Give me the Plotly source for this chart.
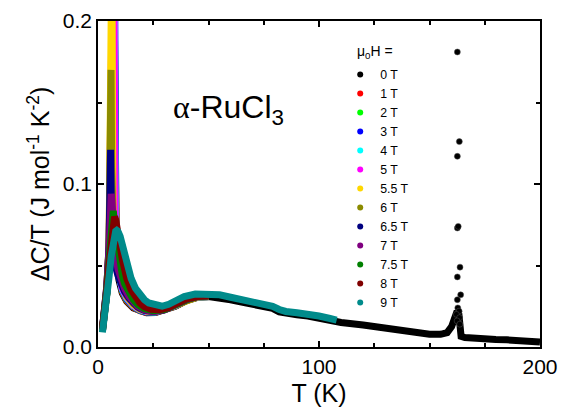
import plotly.graph_objects as go

# ---------------- data ----------------
fields = ["0 T", "1 T", "2 T", "3 T", "4 T", "5 T", "5.5 T", "6 T", "6.5 T", "7 T", "7.5 T", "8 T", "9 T"]
colors = ["#000000", "#ff0000", "#00ff00", "#0000ff", "#00ffff", "#ff00ff", "#ffd700",
          "#8b8b00", "#000080", "#800080", "#008000", "#800000", "#008b8b"]

T_0T = [2, 3, 4, 5, 6, 6.8, 7.1, 7.4, 8.3, 9.5, 11, 13, 16, 19, 22, 26, 30, 35, 40, 45, 50, 55, 60, 65, 70,
        75, 79, 82, 85, 90, 95, 100, 105, 110, 120, 130, 140, 150, 155, 158, 160, 161.5, 162.5, 163.3, 163.8,
        164.3, 166, 170, 175, 180, 185, 190, 195, 200]
C_0T = [0.010, 0.019, 0.033, 0.055, 0.10, 0.20, 0.60, 0.20, 0.055, 0.041, 0.033, 0.028, 0.024, 0.022, 0.021,
        0.0212, 0.0225, 0.025, 0.0285, 0.0305, 0.031, 0.0305, 0.029, 0.0275, 0.0263, 0.025, 0.0237, 0.0215,
        0.0205, 0.0197, 0.019, 0.0175, 0.016, 0.015, 0.0135, 0.0113, 0.0094, 0.0078, 0.0078, 0.0088, 0.0125,
        0.017, 0.022, 0.020, 0.012, 0.0065, 0.0058, 0.0052, 0.0048, 0.0046, 0.0044, 0.004, 0.0035, 0.003]
# isolated 0 T points at the 163 K anomaly
T_0T_peak = [162.6, 163.5, 162.6, 162.6, 163.0, 163.8, 162.6, 164.1, 162.6, 162.8, 163.4, 162.2, 163.6, 162.5, 163.7]
C_0T_peak = [0.181, 0.126, 0.117, 0.073, 0.074, 0.049, 0.043, 0.032, 0.029, 0.024, 0.022, 0.020, 0.018, 0.016, 0.014]

T_1T = [2, 3, 4, 5, 6, 6.7, 7.0, 7.3, 8.2, 9.5, 11, 13, 16, 19, 22, 26, 30, 35, 40, 45, 50]
C_1T = [0.010, 0.019, 0.033, 0.055, 0.10, 0.20, 0.55, 0.20, 0.056, 0.042, 0.034, 0.0285, 0.0245, 0.0222,
        0.0212, 0.0213, 0.0226, 0.0252, 0.0286, 0.0306, 0.031]
T_2T = [2, 3, 4, 5, 6, 6.6, 6.9, 7.2, 8.1, 9.5, 11, 13, 16, 19, 22, 26, 30, 35, 40, 45, 50]
C_2T = [0.010, 0.019, 0.033, 0.056, 0.11, 0.20, 0.50, 0.20, 0.057, 0.043, 0.0345, 0.029, 0.0248, 0.0224,
        0.0214, 0.0214, 0.0227, 0.0253, 0.0287, 0.0306, 0.031]
T_3T = [2, 3, 4, 5, 6, 6.5, 6.8, 7.1, 8.0, 9.5, 11, 13, 16, 19, 22, 26, 30, 35, 40, 45, 50]
C_3T = [0.010, 0.019, 0.034, 0.057, 0.12, 0.20, 0.48, 0.20, 0.058, 0.044, 0.035, 0.0295, 0.025, 0.0226,
        0.0215, 0.0215, 0.0228, 0.0254, 0.0288, 0.0307, 0.031]
T_4T = [2, 3, 4, 5, 6, 6.4, 6.7, 7.0, 7.9, 9.5, 11, 13, 16, 19, 22, 26, 30, 35, 40, 45, 50]
C_4T = [0.010, 0.019, 0.034, 0.058, 0.13, 0.20, 0.45, 0.20, 0.058, 0.044, 0.0355, 0.03, 0.0253, 0.0228,
        0.0217, 0.0216, 0.0229, 0.0255, 0.0289, 0.0307, 0.031]
T_5T = [2, 3, 4, 5, 5.8, 6.3, 6.6, 6.9, 7.8, 9.5, 11, 13, 16, 19, 22, 26, 30, 35, 40, 45, 50]
C_5T = [0.010, 0.020, 0.035, 0.06, 0.12, 0.20, 0.40, 0.20, 0.06, 0.045, 0.036, 0.0305, 0.0256, 0.023,
        0.0219, 0.0218, 0.023, 0.0256, 0.029, 0.0308, 0.031]
T_55T = [2, 3, 4, 5, 5.6, 5.95, 6.1, 6.3, 6.8, 8.0, 9.5, 11, 13, 16, 19, 22, 26, 30, 35, 40, 45, 50]
C_55T = [0.010, 0.020, 0.036, 0.062, 0.11, 0.20, 0.30, 0.20, 0.075, 0.052, 0.046, 0.037, 0.031, 0.026,
         0.0232, 0.0221, 0.022, 0.0231, 0.0257, 0.029, 0.0308, 0.031]
T_6T = [2, 3, 4, 5, 5.5, 5.9, 6.2, 6.6, 7.3, 8.5, 9.5, 11, 13, 16, 19, 22, 26, 30, 35, 40, 45, 50]
C_6T = [0.010, 0.020, 0.036, 0.062, 0.10, 0.170, 0.11, 0.068, 0.056, 0.049, 0.045, 0.038, 0.0315, 0.0265,
        0.0235, 0.0223, 0.0221, 0.0232, 0.0258, 0.029, 0.0309, 0.031]
T_65T = [2, 3, 4, 5, 5.4, 5.7, 6.0, 6.4, 7, 8, 9, 10, 12, 14, 16, 18, 21, 25, 30, 35, 40, 45, 50]
C_65T = [0.011, 0.021, 0.037, 0.062, 0.09, 0.121, 0.09, 0.065, 0.056, 0.049, 0.044, 0.040, 0.034, 0.030,
         0.027, 0.0245, 0.0225, 0.0218, 0.0228, 0.026, 0.029, 0.031, 0.0315]
T_7T = [2, 3, 4, 5, 5.5, 6.0, 6.5, 7, 7.5, 8, 9, 10, 11, 12, 14, 16, 18, 21, 25, 30, 35, 40, 45, 50]
C_7T = [0.011, 0.022, 0.038, 0.060, 0.078, 0.094, 0.085, 0.072, 0.062, 0.056, 0.048, 0.043, 0.039, 0.036,
        0.031, 0.0275, 0.025, 0.0228, 0.0218, 0.0228, 0.026, 0.0292, 0.031, 0.0315]
T_75T = [2, 3, 4, 5, 6, 6.9, 8, 9, 10, 11, 12, 14, 16, 18, 21, 25, 30, 35, 40, 45, 50]
C_75T = [0.011, 0.021, 0.036, 0.053, 0.072, 0.0835, 0.071, 0.059, 0.050, 0.044, 0.039, 0.033, 0.029, 0.026,
         0.0235, 0.0222, 0.0229, 0.026, 0.0293, 0.031, 0.0315]
T_8T = [2, 3, 4, 5, 6, 7, 7.5, 8, 9, 10, 11, 12, 13, 15, 17, 19, 21, 24, 28, 32, 36, 40, 45, 50]
C_8T = [0.011, 0.020, 0.034, 0.050, 0.066, 0.078, 0.080, 0.078, 0.072, 0.062, 0.054, 0.047, 0.042, 0.035,
        0.030, 0.027, 0.0248, 0.0232, 0.0228, 0.0242, 0.027, 0.0295, 0.031, 0.0315]
T_9T = [2, 3, 4, 5, 6, 7, 8, 8.5, 9, 10, 11, 12, 13, 14, 15, 17, 19, 21, 23, 26, 29, 32, 35, 39, 44, 50, 55,
        60, 65, 70, 75, 79, 82, 85, 90, 95, 100, 105, 108]
C_9T = [0.009, 0.018, 0.030, 0.043, 0.056, 0.066, 0.071, 0.0715, 0.071, 0.068, 0.063, 0.057, 0.051, 0.046,
        0.042, 0.036, 0.032, 0.029, 0.027, 0.0255, 0.025, 0.0262, 0.028, 0.031, 0.0325, 0.0325, 0.032, 0.0305,
        0.029, 0.0278, 0.0265, 0.025, 0.023, 0.0218, 0.021, 0.0203, 0.019, 0.0175, 0.0165]

series_T = [T_0T, T_1T, T_2T, T_3T, T_4T, T_5T, T_55T, T_6T, T_65T, T_7T, T_75T, T_8T, T_9T]
series_C = [C_0T, C_1T, C_2T, C_3T, C_4T, C_5T, C_55T, C_6T, C_65T, C_7T, C_75T, C_8T, C_9T]

x_ticks = [0, 100, 200]
y_ticks = [0.0, 0.1, 0.2]

# ---------------- figure ----------------
FONT = "Liberation Sans, Arial, sans-serif"
fig = go.Figure()

for name, col, tx, cy in zip(fields, colors, series_T, series_C):
    fig.add_trace(go.Scatter(x=tx, y=cy, mode="lines", line=dict(color=col, width=7),
                             showlegend=False, hoverinfo="skip", cliponaxis=True))

fig.add_trace(go.Scatter(x=T_0T_peak, y=C_0T_peak, mode="markers",
                         marker=dict(color="#000000", size=6, line=dict(width=0.5, color="#555")),
                         showlegend=False))

# legend entries (marker symbols)
for name, col in zip(fields, colors):
    fig.add_trace(go.Scatter(x=[None], y=[None], mode="markers", name=name,
                             marker=dict(color=col, size=6)))

fig.add_annotation(x=59, y=0.146, xref="x", yref="y", showarrow=False,
                   text='<span style="font-family:Liberation Serif">α</span>-RuCl<sub>3</sub>',
                   font=dict(family=FONT, size=32, color="black"))

# legend heading
fig.add_annotation(x=0.581, y=0.905, xref="paper", yref="paper", xanchor="left", yanchor="middle",
                   showarrow=False, text="μ<sub>0</sub>H =",
                   font=dict(family=FONT, size=14, color="black"))

axis_common = dict(showline=True, linecolor="black", linewidth=1.5, mirror="ticks",
                   ticks="inside", ticklen=6, tickwidth=1.5, tickcolor="black",
                   showgrid=False, zeroline=False, automargin=False,
                   tickfont=dict(family=FONT, size=21, color="black"))

fig.update_xaxes(range=[0, 200], tickvals=x_ticks, ticktext=[str(v) for v in x_ticks],
                 minor=dict(dtick=25, ticks="inside", ticklen=4, tickwidth=1.5, tickcolor="black", tick0=0),
                 title=dict(text="T (K)", font=dict(family=FONT, size=25, color="black"), standoff=8),
                 **axis_common)
fig.update_yaxes(range=[0, 0.2], tickvals=y_ticks, ticktext=["%.1f" % v for v in y_ticks],
                 minor=dict(dtick=0.05, ticks="inside", ticklen=4, tickwidth=1.5, tickcolor="black", tick0=0),
                 title=dict(text="ΔC/T (J mol<sup>-1</sup> K<sup>-2</sup>)",
                            font=dict(family=FONT, size=25, color="black"), standoff=6),
                 **axis_common)

# the page adds an 8 px body margin, so the figure is 8 px smaller and left/top margins reduced
fig.update_layout(
    width=567, height=407,
    margin=dict(l=90, r=35, t=13, b=68),
    paper_bgcolor="white", plot_bgcolor="white",
    font=dict(family=FONT, color="black"),
    legend=dict(x=0.548, y=0.880, xanchor="left", yanchor="top",
                bgcolor="rgba(0,0,0,0)", borderwidth=0,
                font=dict(family=FONT, size=12.3, color="black"),
                itemwidth=30),
    showlegend=True,
)

fig.write_html("out.html")
